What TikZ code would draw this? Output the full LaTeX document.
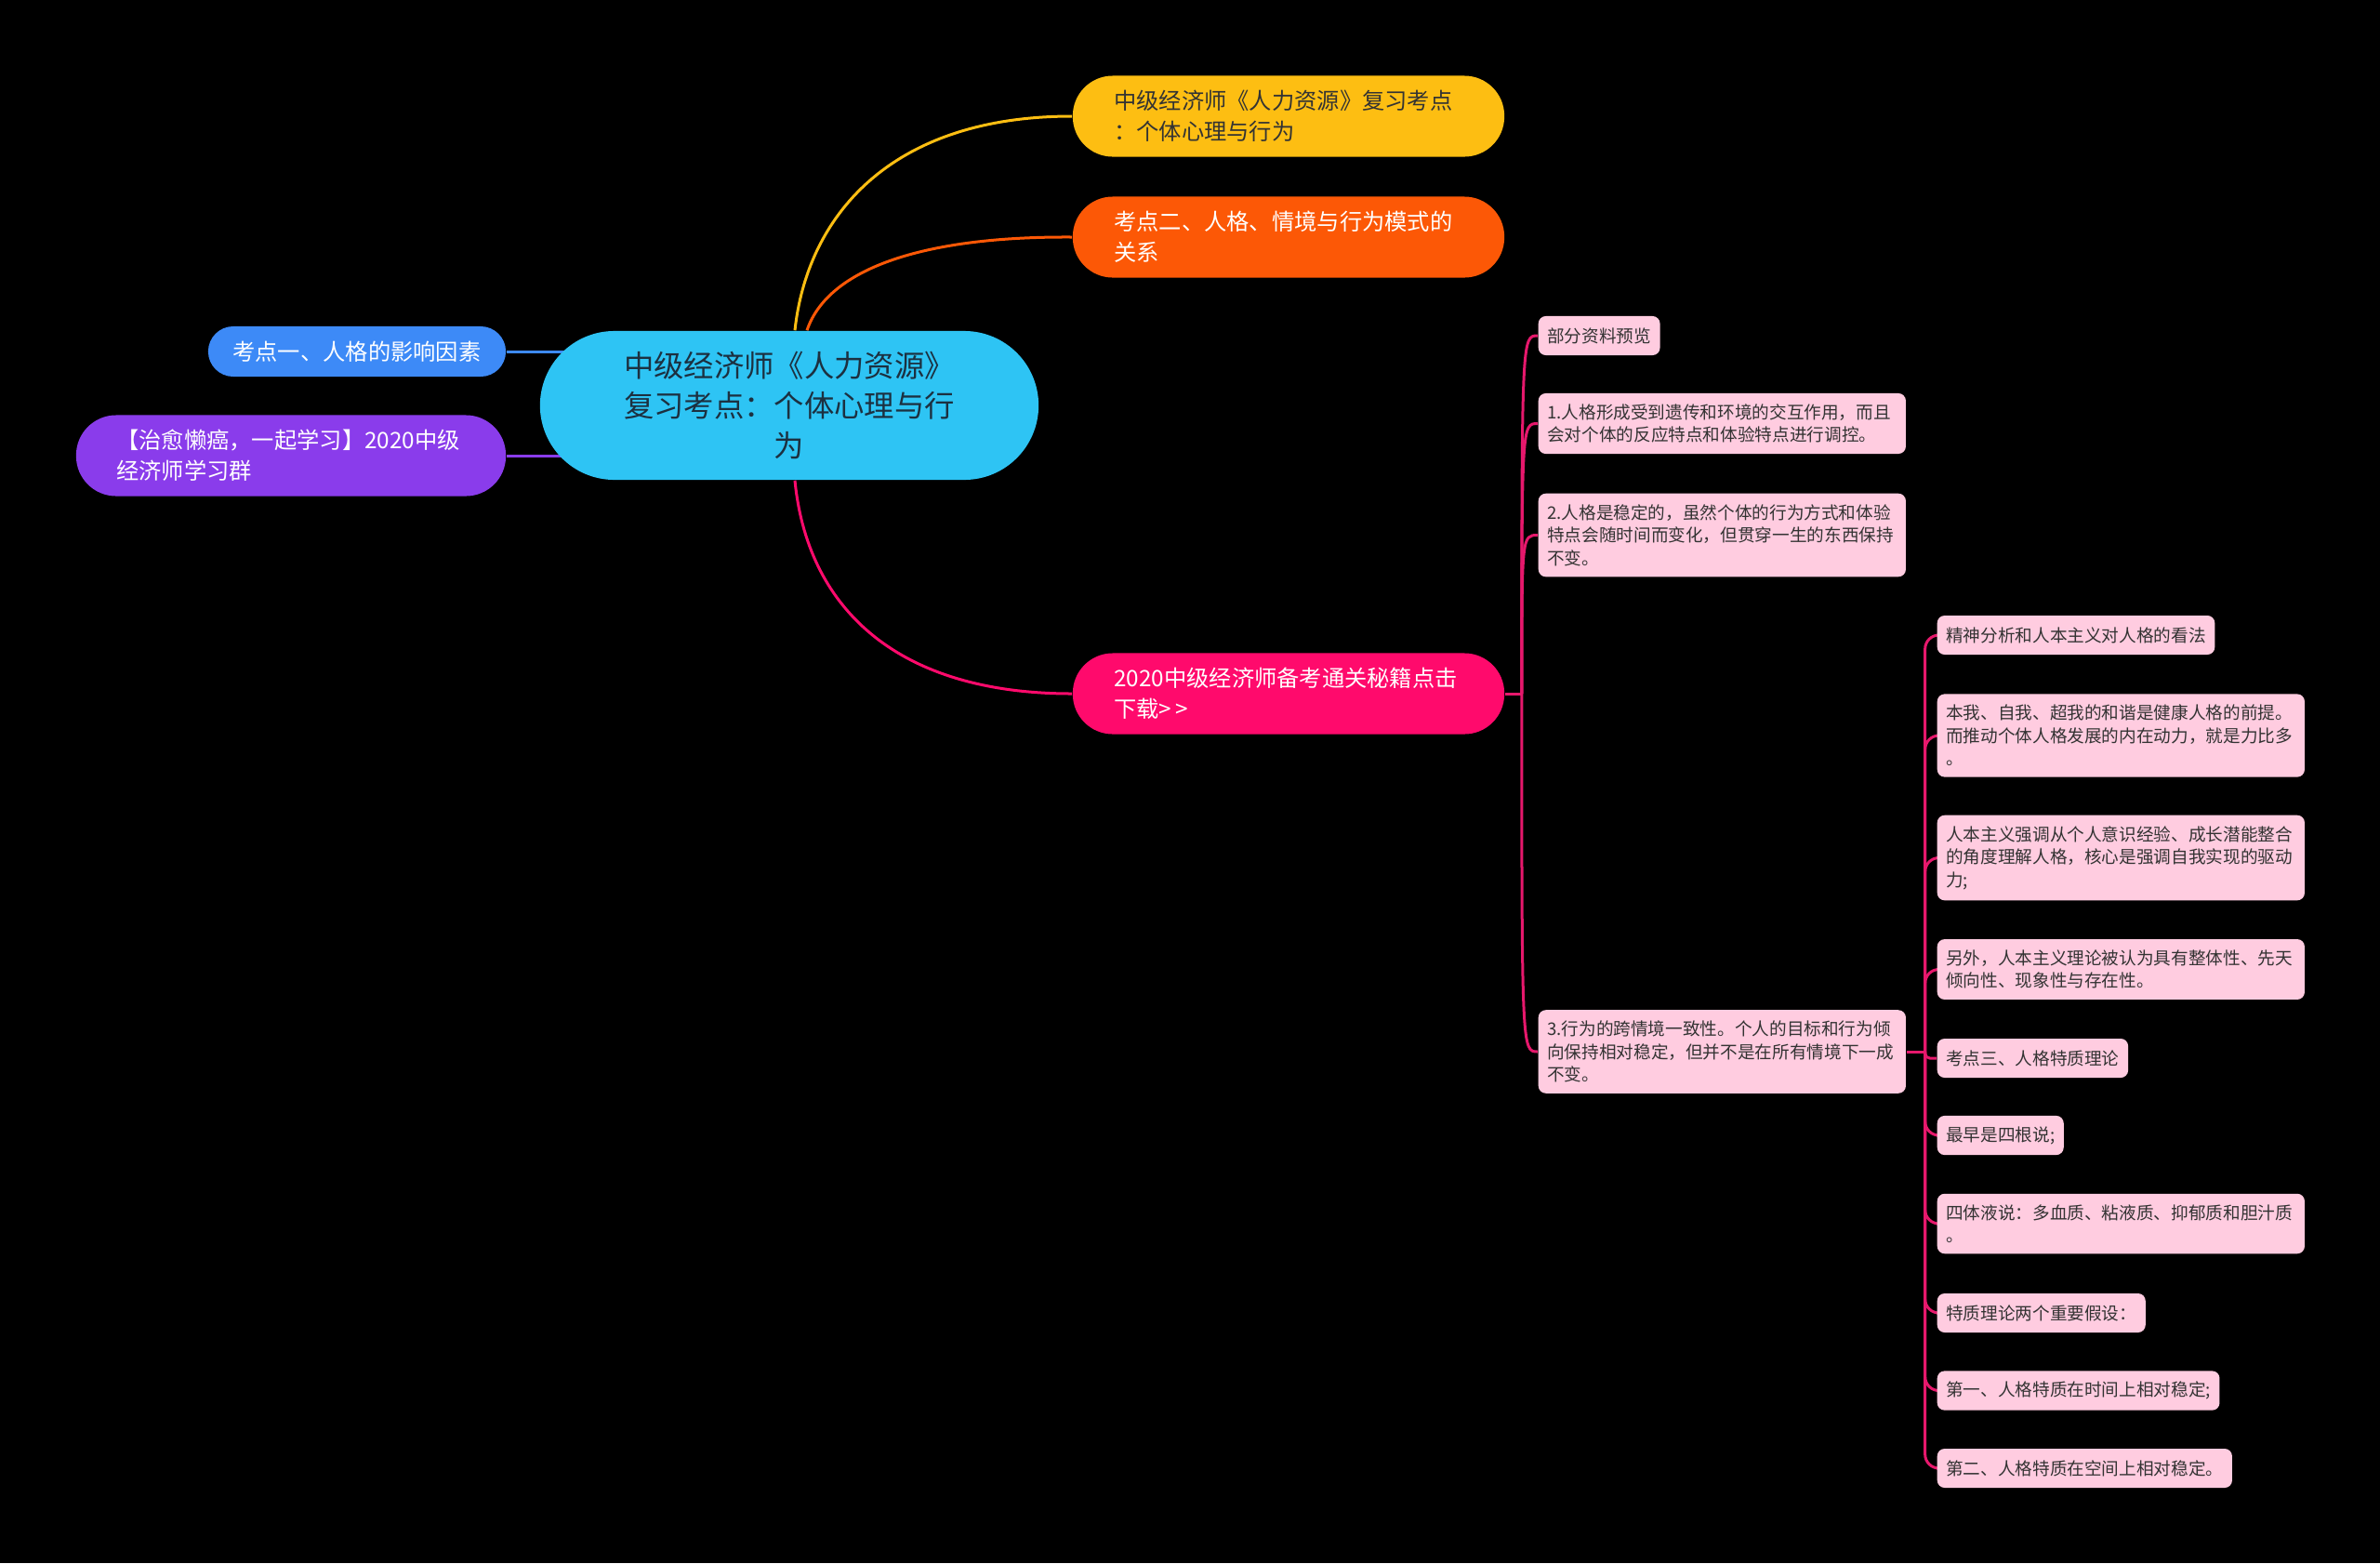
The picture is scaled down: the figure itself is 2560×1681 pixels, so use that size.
\documentclass[tikz,border=0pt]{standalone}
\usepackage{fontspec}
\setmainfont{Noto Sans CJK SC}
\usepackage{tikz}
\usetikzlibrary{backgrounds}
\definecolor{mapcyan}{RGB}{46, 196, 244}
\definecolor{mapyellow}{RGB}{253, 190, 18}
\definecolor{maporange}{RGB}{252, 88, 6}
\definecolor{mapblue}{RGB}{61, 138, 247}
\definecolor{mappurple}{RGB}{138, 60, 235}
\definecolor{mappink}{RGB}{255, 10, 108}
\definecolor{maplight}{RGB}{255, 204, 224}
\definecolor{mapline}{RGB}{230, 24, 108}
\definecolor{maptext}{RGB}{51, 51, 51}
\definecolor{roottext}{RGB}{28, 48, 64}

\begin{document}
\begin{tikzpicture}[
    x=0.01cm, y=-0.01cm,
    root/.style={rectangle, rounded corners=0.8cm, fill=mapcyan, text=roottext, minimum width=5.36cm, minimum height=1.6cm, text width=3.7cm, align=center, font=\fontsize{9.2}{12.1}\selectfont},
    topic/.style={rectangle, rounded corners=0.43cm, minimum width=4.64cm, minimum height=0.87cm, text width=3.75cm, align=left, text=white, font=\fontsize{6.9}{9.3}\selectfont},
    leaf/.style={rectangle, rounded corners=0.08cm, fill=maplight, text=maptext, anchor=west, inner xsep=0.095cm, inner ysep=0.115cm, minimum height=0.42cm, align=left, font=\fontsize{5.3}{7}\selectfont},
    wide/.style={text width=3.76cm},
    link/.style={line width=0.03cm}
]
\useasboundingbox (0,0) rectangle (2560,1681);

\node[root] (centre) at (849,436) {中级经济师《人力资源》\\复习考点：个体心理与行\\为};

\node[topic, fill=mapyellow, text=maptext] (yellow) at (1386,125) {中级经济师《人力资源》复习考点\\：个体心理与行为};
\node[topic, fill=maporange] (orange) at (1386,255) {考点二、人格、情境与行为模式的\\关系};
\node[topic, fill=mappink] (pink) at (1386,746) {2020中级经济师备考通关秘籍点击\\下载>{}\,>};
\node[topic, fill=mapblue, minimum width=3.2cm, minimum height=0.54cm, text width=2.67cm, rounded corners=0.27cm] (blue) at (384,378) {考点一、人格的影响因素};
\node[topic, fill=mappurple, minimum width=4.62cm] (purple) at (313,490) {【治愈懒癌，一起学习】2020中级\\经济师学习群};

\node[leaf] (c1a) at (1654,361) {部分资料预览};
\node[leaf, wide] (c1b) at (1654,455.5) {1.人格形成受到遗传和环境的交互作用，而且\\会对个体的反应特点和体验特点进行调控。};
\node[leaf, wide] (c1c) at (1654,575.5) {2.人格是稳定的，虽然个体的行为方式和体验\\特点会随时间而变化，但贯穿一生的东西保持\\不变。};
\node[leaf, wide] (c1d) at (1654,1131) {3.行为的跨情境一致性。个人的目标和行为倾\\向保持相对稳定，但并不是在所有情境下一成\\不变。};

\node[leaf] (c2a) at (2083,683) {精神分析和人本主义对人格的看法};
\node[leaf, wide] (c2b) at (2083,791) {本我、自我、超我的和谐是健康人格的前提。\\而推动个体人格发展的内在动力，就是力比多\\。};
\node[leaf, wide] (c2c) at (2083,922.5) {人本主义强调从个人意识经验、成长潜能整合\\的角度理解人格，核心是强调自我实现的驱动\\力;};
\node[leaf, wide] (c2d) at (2083,1042.5) {另外，人本主义理论被认为具有整体性、先天\\倾向性、现象性与存在性。};
\node[leaf] (c2e) at (2083,1138) {考点三、人格特质理论};
\node[leaf] (c2f) at (2083,1221) {最早是四根说;};
\node[leaf, wide] (c2g) at (2083,1316) {四体液说：多血质、粘液质、抑郁质和胆汁质\\。};
\node[leaf] (c2h) at (2083,1412) {特质理论两个重要假设：};
\node[leaf] (c2i) at (2083,1495.5) {第一、人格特质在时间上相对稳定;};
\node[leaf] (c2j) at (2083,1579) {第二、人格特质在空间上相对稳定。};

\coordinate (hub1) at ([xshift=0.18cm]pink.east);
\coordinate (hub2) at ([xshift=0.2cm]c1d.east);

\begin{scope}[on background layer]
\fill[black] (0,0) rectangle (2560,1681);

\draw[link, color=mapyellow] ([xshift=0.06cm]centre.north) .. controls (868,235) and (955,125) .. (yellow.west);
\draw[link, color=maporange] ([xshift=0.19cm]centre.north) .. controls (890,290) and (990,254) .. (orange.west);
\draw[link, color=mappink] ([xshift=0.06cm]centre.south) .. controls (868,650) and (960,746) .. (pink.west);
\draw[link, color=mapblue] (blue.east) -- (blue.east -| centre.center);
\draw[link, color=mappurple] (purple.east) -- (purple.east -| centre.center);

\draw[link, color=mapline] (pink.east) -- (hub1);
\draw[link, color=mapline] (hub1) .. controls (hub1 |- c1a.west) .. (c1a.west);
\draw[link, color=mapline] (hub1) .. controls (hub1 |- c1b.west) .. (c1b.west);
\draw[link, color=mapline] (hub1) .. controls (hub1 |- c1c.west) .. (c1c.west);
\draw[link, color=mapline] (hub1) .. controls (hub1 |- c1d.west) .. (c1d.west);

\draw[link, color=mapline] (c1d.east) -- (hub2);
\draw[link, color=mapline, rounded corners=0.15cm] (hub2) |- (c2a.west);
\draw[link, color=mapline, rounded corners=0.15cm] (hub2) |- (c2b.west);
\draw[link, color=mapline, rounded corners=0.15cm] (hub2) |- (c2c.west);
\draw[link, color=mapline, rounded corners=0.15cm] (hub2) |- (c2d.west);
\draw[link, color=mapline, rounded corners=0.05cm] (hub2) |- (c2e.west);
\draw[link, color=mapline, rounded corners=0.15cm] (hub2) |- (c2f.west);
\draw[link, color=mapline, rounded corners=0.15cm] (hub2) |- (c2g.west);
\draw[link, color=mapline, rounded corners=0.15cm] (hub2) |- (c2h.west);
\draw[link, color=mapline, rounded corners=0.15cm] (hub2) |- (c2i.west);
\draw[link, color=mapline, rounded corners=0.15cm] (hub2) |- (c2j.west);
\end{scope}

\end{tikzpicture}
\end{document}
